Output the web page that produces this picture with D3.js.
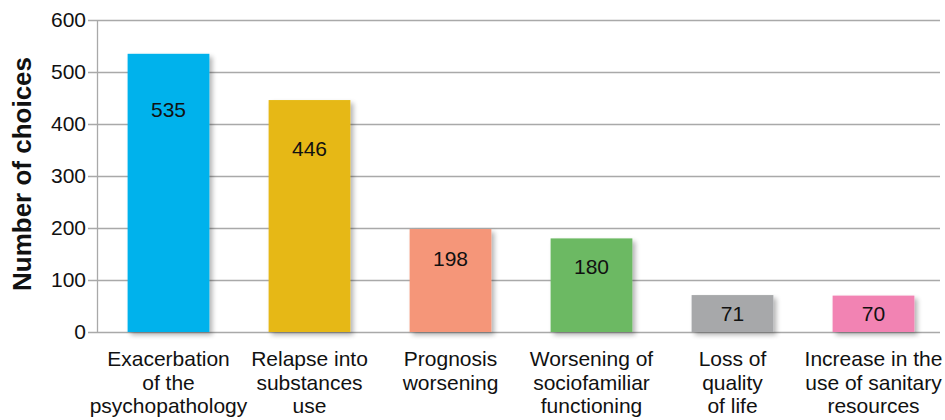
<!DOCTYPE html>
<html><head><meta charset="utf-8">
<script src="https://cdn.jsdelivr.net/npm/d3@7"></script>
<style>body{margin:0;background:#fff}svg{display:block}</style>
</head><body>
<svg id="c" width="945" height="420"></svg>
<script>
const categories = [
  ["Exacerbation","of the","psychopathology"],
  ["Relapse into","substances","use"],
  ["Prognosis","worsening"],
  ["Worsening of","sociofamiliar","functioning"],
  ["Loss of","quality","of life"],
  ["Increase in the","use of sanitary","resources"]
];
const values = [535, 446, 198, 180, 71, 70];
const colors = ["#00b2ec", "#e6b812", "#f59679", "#6cb963", "#a7a8aa", "#f283b3"];
const yTicks = [0, 100, 200, 300, 400, 500, 600];
const yTitle = "Number of choices";

const svg = d3.select("#c");
const font = "'Liberation Sans', Arial, sans-serif";
const x = d3.scaleBand().domain(d3.range(values.length)).range([98, 944]).paddingInner(0.42).paddingOuter(0.21);
const y = d3.scaleLinear().domain([0, 600]).range([332, 20]);

const defs = svg.append("defs");
const f = defs.append("filter").attr("id", "sh").attr("x", "-10%").attr("y", "-10%").attr("width", "130%").attr("height", "130%");
f.append("feGaussianBlur").attr("in", "SourceAlpha").attr("stdDeviation", 2.5);
f.append("feOffset").attr("dx", 3).attr("dy", 3).attr("result", "ob");
f.append("feComponentTransfer").append("feFuncA").attr("type", "linear").attr("slope", 0.3);
const m = f.append("feMerge");
m.append("feMergeNode");
m.append("feMergeNode").attr("in", "SourceGraphic");

// gridlines
svg.append("g").selectAll("line").data(yTicks).join("line")
  .attr("x1", 88).attr("x2", 940)
  .attr("y1", d => Math.round(y(d)) + 0.5).attr("y2", d => Math.round(y(d)) + 0.5)
  .attr("stroke", "#a9a9a9").attr("stroke-width", 1.3);
// axis line
svg.append("line").attr("x1", 97.5).attr("x2", 97.5).attr("y1", y(600)).attr("y2", y(0))
  .attr("stroke", "#a9a9a9").attr("stroke-width", 1.3);

svg.append("g").selectAll("text").data(yTicks).join("text")
  .attr("x", 86).attr("y", d => y(d)).attr("dy", "0.35em")
  .attr("text-anchor", "end").attr("font-family", font).attr("font-size", 21).attr("fill", "#111")
  .text(d => d);

svg.append("text").attr("transform", "translate(31,174) rotate(-90)")
  .attr("text-anchor", "middle").attr("font-family", font).attr("font-size", 26).attr("font-weight", "bold")
  .attr("fill", "#111").text(yTitle);

// bars
svg.append("g").selectAll("rect").data(values).join("rect")
  .attr("x", (d, i) => x(i)).attr("width", x.bandwidth())
  .attr("y", d => y(d)).attr("height", d => y(0) - y(d))
  .attr("fill", (d, i) => colors[i]).attr("filter", "url(#sh)");

// value labels
svg.append("g").selectAll("text").data(values).join("text")
  .attr("x", (d, i) => x(i) + x.bandwidth() / 2)
  .attr("y", d => { const h = y(0) - y(d); return y(d) + Math.min(h / 2, 14 + h * 0.15); })
  .attr("dy", "0.35em").attr("text-anchor", "middle")
  .attr("font-family", font).attr("font-size", 21).attr("fill", "#111").text(d => d);

// category labels
const cg = svg.append("g").selectAll("text").data(categories).join("text")
  .attr("x", (d, i) => x(i) + x.bandwidth() / 2)
  .attr("y", 366).attr("text-anchor", "middle")
  .attr("font-family", font).attr("font-size", 21).attr("fill", "#111");
cg.selectAll("tspan").data(d => d).join("tspan")
  .attr("x", function() { return d3.select(this.parentNode).attr("x"); })
  .attr("dy", (d, j) => j === 0 ? 0 : 23.5).text(d => d);
</script>
</body></html>
